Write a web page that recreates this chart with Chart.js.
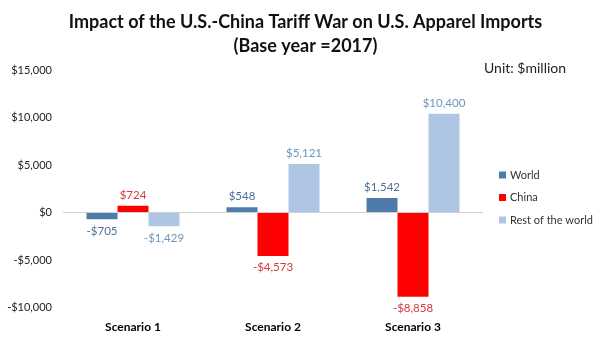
<!DOCTYPE html>
<html>
<head>
<meta charset="utf-8">
<script src="https://cdn.jsdelivr.net/npm/chart.js@4"></script>
<style>
  html, body { margin: 0; padding: 0; background: #fff; }
  #wrap { width: 611px; height: 346px; }
</style>
</head>
<body>
<div id="wrap"><canvas id="chart" width="611" height="346"></canvas></div>
<script>
const scenarios = ['Scenario 1', 'Scenario 2', 'Scenario 3'];
const world = [-705, 548, 1542];
const china = [724, -4573, -8858];
const restOfWorld = [-1429, 5121, 10400];
const yTicks = [-10000, -5000, 0, 5000, 10000, 15000];

const FONT = "Lato, 'Open Sans', sans-serif";

function money(v) {
    const s = '$' + Math.abs(v).toLocaleString('en-US');
    return v < 0 ? '-' + s : s;
}

// value labels at the bar ends, the unit note and the legend on the right
const extras = {
    id: 'extras',
    afterDatasetsDraw(chart) {
        const ctx = chart.ctx;
        ctx.save();
        ctx.font = '11.5px ' + FONT;
        ctx.textAlign = 'center';
        chart.data.datasets.forEach((ds, i) => {
            const meta = chart.getDatasetMeta(i);
            meta.data.forEach((bar, j) => {
                const v = ds.data[j];
                ctx.fillStyle = ds.labelColor;
                if (v >= 0) {
                    ctx.textBaseline = 'bottom';
                    ctx.fillText(money(v), bar.x, bar.y - 5);
                } else {
                    ctx.textBaseline = 'top';
                    ctx.fillText(money(v), bar.x, bar.y + 6);
                }
            });
        });

        ctx.font = '14px ' + FONT;
        ctx.fillStyle = '#222';
        ctx.textAlign = 'left';
        ctx.textBaseline = 'middle';
        ctx.fillText('Unit: $million', 484, 68);

        // legend
        ctx.font = '11px ' + FONT;
        const top = chart.chartArea.top + 105;
        chart.data.datasets.forEach((ds, i) => {
            const y = top + i * 22.5;
            ctx.fillStyle = ds.backgroundColor;
            ctx.fillRect(499, y - 3.5, 7, 7);
            ctx.fillStyle = '#333';
            ctx.fillText(ds.label, 510, y);
        });
        ctx.restore();
    }
};

new Chart(document.getElementById('chart'), {
    type: 'bar',
    data: {
        labels: scenarios,
        datasets: [
            { label: 'World', data: world, backgroundColor: '#4E7BAA', labelColor: '#4E6F96' },
            { label: 'China', data: china, backgroundColor: '#FF0000', labelColor: '#D43A3A' },
            { label: 'Rest of the world', data: restOfWorld, backgroundColor: '#AEC5E3', labelColor: '#6E94BE' }
        ]
    },
    options: {
        responsive: false,
        animation: false,
        layout: { padding: 0 },
        datasets: {
            bar: { categoryPercentage: 0.664, barPercentage: 1.0 }
        },
        scales: {
            x: {
                grid: { display: false, drawTicks: false },
                border: { display: false },
                ticks: { color: '#000', font: { family: FONT, size: 12, weight: 'bold' }, padding: 12 }
            },
            y: {
                min: -10000,
                max: 15000,
                afterBuildTicks(axis) { axis.ticks = yTicks.map(v => ({ value: v })); },
                afterFit(axis) { axis.width = 63; },
                grid: {
                    drawTicks: false,
                    color: ctx => ctx.tick && ctx.tick.value === 0 ? '#D0D0D0' : 'rgba(0,0,0,0)',
                    lineWidth: 1
                },
                border: { display: false },
                ticks: {
                    color: '#222',
                    font: { family: FONT, size: 11 },
                    padding: 11,
                    callback: v => money(v)
                }
            },
            // empty right-hand axis that keeps room for the legend
            yRight: {
                position: 'right',
                min: -10000,
                max: 15000,
                afterFit(axis) { axis.width = 128; },
                grid: { display: false, drawTicks: false },
                border: { display: false },
                ticks: { display: false }
            }
        },
        plugins: {
            title: {
                display: true,
                text: ['Impact of the U.S.-China Tariff War on U.S. Apparel Imports', '(Base year =2017)'],
                color: '#111',
                font: { family: FONT, size: 18, weight: 'bold', lineHeight: 24 / 18 },
                padding: { top: 10, bottom: 12 }
            },
            legend: { display: false },
            tooltip: { enabled: false }
        }
    },
    plugins: [extras]
});
</script>
</body>
</html>
